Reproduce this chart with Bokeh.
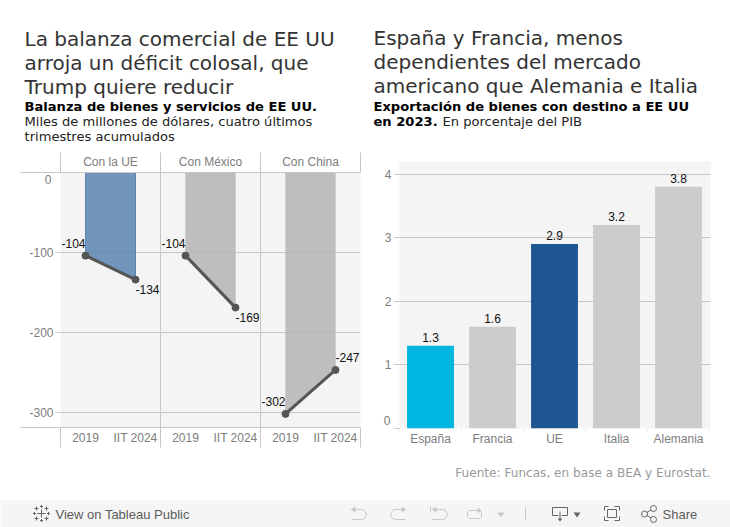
from bokeh.plotting import figure
from bokeh.embed import file_html
from bokeh.resources import INLINE
from bokeh.layouts import column, row
from bokeh.core.properties import value
from bokeh.models import (ColumnDataSource, FixedTicker, Grid, LinearAxis, Range1d)

# ---------- data ----------
regions = ["Con la UE", "Con México", "Con China"]
periods = ["2019", "IIT 2024"]
balance_2019 = [-104, -104, -302]
balance_2024 = [-134, -169, -247]
balance_ticks = [0, -100, -200, -300]

countries = ["España", "Francia", "UE", "Italia", "Alemania"]
exports_pct = [1.3, 1.6, 2.9, 3.2, 3.8]
export_ticks = [0, 1, 2, 3, 4]

title_left = ["La balanza comercial de EE UU", "arroja un déficit colosal, que", "Trump quiere reducir"]
title_right = ["España y Francia, menos", "dependientes del mercado", "americano que Alemania e Italia"]
source_note = "Fuente: Funcas, en base a BEA y Eurostat."

# ---------- styles ----------
SANS = "Liberation Sans"
TITLE = "DejaVu Sans"
GRID = "#c6c6c6"
AXIS_TXT = "#7d7d7d"
PLOT_BG = "#f4f4f4"
LINE = "#555555"
area_fill = ["#517dad", "#b0b0b0", "#b0b0b0"]
area_edge = ["#5c86b2", "#cdcdcd", "#cdcdcd"]
bar_colors = ["#00b5e0", "#cccccc", "#1d5690", "#cccccc", "#cccccc"]
SUB = 13.08


def text_panel(w, h, x0, y0, bg="#ffffff"):
    p = figure(width=w, height=h, x_range=Range1d(x0, x0 + w), y_range=Range1d(y0 + h, y0), x_axis_type=None,
               y_axis_type=None, output_backend="svg", toolbar_location=None, min_border=0,
               background_fill_color=bg, border_fill_color=bg, outline_line_color=None)
    p.grid.visible = False
    return p


def put(p, text, x, y, size, color="#000000", style="normal", font=TITLE, align="left"):
    p.text([x], [y], text=[text], text_font=value(font), text_font_size=f"{size}px", text_color=color,
           text_font_style=style, text_align=align, text_baseline="middle")


def chart_figure(w, h, left, right, top, bottom, xr, yr):
    p = figure(width=w, height=h, x_range=xr, y_range=yr, x_axis_type=None, y_axis_type=None,
               output_backend="svg", toolbar_location=None, min_border_left=left, min_border_right=right,
               min_border_top=top, min_border_bottom=bottom, background_fill_color=PLOT_BG,
               border_fill_color="#ffffff", outline_line_color=None, frame_width=w - left - right,
               frame_height=h - top - bottom)
    p.grid.visible = False
    return p


def style_axis(ax, size="12px"):
    ax.major_label_text_font = SANS
    ax.major_label_text_font_size = size
    ax.major_label_text_color = AXIS_TXT
    ax.major_tick_in = 0
    ax.minor_tick_in = 0
    ax.major_tick_line_color = GRID
    ax.minor_tick_line_color = GRID
    ax.axis_line_color = GRID


# ---------- left header ----------
head_l = text_panel(365, 151, 0, 0)
for i, t in enumerate(title_left):
    put(head_l, t, 24, 38 + 24 * i, 20, color="#333333")
put(head_l, "Balanza de bienes y servicios de EE UU.", 24, 106, SUB, style="bold")
put(head_l, "Miles de millones de dólares, cuatro últimos", 24, 121, SUB, color="#222222")
put(head_l, "trimestres acumulados", 24, 136, SUB, color="#222222")

# ---------- left chart ----------
left = chart_figure(365, 348, 60, 5, 20, 73, Range1d(0, 2 * len(regions)), Range1d(-319, 0))
panel_edges = [2 * i for i in range(len(regions) + 1)]
panel_mid = [2 * i + 1 for i in range(len(regions))]
period_pos = [2 * i + 0.5 + j for i in range(len(regions)) for j in range(len(periods))]

left.add_layout(Grid(dimension=0, ticker=FixedTicker(ticks=panel_edges), grid_line_color=GRID, level="underlay"))
left.add_layout(Grid(dimension=1, ticker=FixedTicker(ticks=balance_ticks), grid_line_color=GRID, level="underlay"))

top_ax = LinearAxis(ticker=FixedTicker(ticks=panel_mid, minor_ticks=panel_edges),
                    major_label_overrides={m: r for m, r in zip(panel_mid, regions)})
style_axis(top_ax)
top_ax.major_tick_out = 0
top_ax.minor_tick_out = 20
top_ax.major_label_standoff = -16
left.add_layout(top_ax, "above")

bot_ax = LinearAxis(ticker=FixedTicker(ticks=period_pos, minor_ticks=panel_edges),
                    major_label_overrides={x: periods[i % 2] for i, x in enumerate(period_pos)})
style_axis(bot_ax)
bot_ax.major_tick_out = 0
bot_ax.minor_tick_out = 20
bot_ax.major_label_standoff = -17
left.add_layout(bot_ax, "below")

y_ax = LinearAxis(ticker=FixedTicker(ticks=balance_ticks, minor_ticks=[0, -319]),
                  major_label_overrides={t: ("" if t == 0 else str(t)) for t in balance_ticks})
style_axis(y_ax)
y_ax.major_tick_out = 5
y_ax.minor_tick_out = 40
y_ax.major_label_standoff = -33
y_ax.axis_line_color = None
left.add_layout(y_ax, "left")

# the zero label sits just below its gridline in the reference
zero_l = LinearAxis(ticker=FixedTicker(ticks=[-8.75]), major_label_overrides={-8.75: "0"})
style_axis(zero_l)
zero_l.major_tick_out = 0
zero_l.major_tick_line_color = None
zero_l.axis_line_color = None
zero_l.major_label_standoff = -25
left.add_layout(zero_l, "left")

for i in range(len(regions)):
    x0, x1 = 2 * i + 0.5, 2 * i + 1.5
    v0, v1 = balance_2019[i], balance_2024[i]
    left.patch([x0, x1, x1, x0], [0, 0, v1, v0], fill_color=area_fill[i], fill_alpha=0.8, line_color=None)
    left.segment([x0, x1], [0, 0], [x0, x1], [v0, v1], line_color=area_edge[i], line_width=1)
    left.line([x0, x1], [v0, v1], line_color=LINE, line_width=3)
    left.scatter([x0, x1], [v0, v1], size=7, fill_color=LINE, line_color=LINE)
    rising = v1 > v0
    left.text([x0], [v0], text=[str(v0)], text_align="right", text_baseline="middle",
              x_offset=[0], y_offset=[-12], text_font=value(SANS), text_font_size="12px", text_color="#111111")
    left.text([x1], [v1], text=[str(v1)], text_align="left", text_baseline="middle",
              x_offset=[0], y_offset=[-12 if rising else 10], text_font=value(SANS), text_font_size="12px",
              text_color="#111111")

# ---------- right header ----------
head_r = text_panel(365, 161, 365, 0)
for i, t in enumerate(title_right):
    put(head_r, t, 373, 37 + 24 * i, 20, color="#333333")
put(head_r, "Exportación de bienes con destino a EE UU", 373, 106, SUB, style="bold")
put(head_r, "en 2023.", 373, 121, SUB, style="bold")
put(head_r, "En porcentaje del PIB", 442, 121, SUB, color="#222222")

# ---------- right chart ----------
right = chart_figure(365, 299, 34, 20, 0, 32, Range1d(0, 5.016), Range1d(0, 4.198))
pos = [i + 0.5 for i in range(len(countries))]
right.add_layout(Grid(dimension=1, ticker=FixedTicker(ticks=export_ticks), grid_line_color=GRID, level="underlay"))
source = ColumnDataSource(dict(x=pos, v=exports_pct, c=bar_colors, t=[f"{v:.1f}" for v in exports_pct]))
right.vbar(x="x", top="v", bottom=0, width=0.756, fill_color="c", line_color=None, source=source)
right.text(x="x", y="v", text="t", text_align="center", text_baseline="bottom", y_offset=-4,
           text_font=value(SANS), text_font_size="12px", text_color="#111111", source=source)

bx = LinearAxis(ticker=FixedTicker(ticks=pos, minor_ticks=list(range(len(countries) + 1))),
                major_label_overrides={x: c for x, c in zip(pos, countries)})
style_axis(bx)
bx.major_tick_out = 0
bx.minor_tick_out = 4
bx.minor_tick_line_color = "#eeeeee"
bx.axis_line_color = None
bx.major_label_standoff = -1
right.add_layout(bx, "below")

ly = LinearAxis(ticker=FixedTicker(ticks=export_ticks),
                major_label_overrides={t: ("" if t == 0 else str(t)) for t in export_ticks})
style_axis(ly)
ly.major_tick_out = 5
ly.major_label_standoff = 3
ly.axis_line_color = None
right.add_layout(ly, "left")

zero_r = LinearAxis(ticker=FixedTicker(ticks=[0.125]), major_label_overrides={0.125: "0"})
style_axis(zero_r)
zero_r.major_tick_out = 0
zero_r.major_tick_line_color = None
zero_r.axis_line_color = None
zero_r.major_label_standoff = -9
right.add_layout(zero_r, "left")

src_panel = text_panel(365, 40, 365, 460)
put(src_panel, source_note, 710, 472, 12.1, color="#999999", align="right")

# ---------- footer bar ----------
foot = text_panel(730, 27, 0, 500, bg="#f5f5f5")
LIGHT = "#c8c8c8"
DARK = "#666666"
cx, cy = 41, 513
plus_x = [cx, cx - 5, cx + 5, cx - 5, cx + 5, cx, cx, cx - 7, cx + 7]
plus_y = [cy, cy - 5, cy - 5, cy + 5, cy + 5, cy - 7, cy + 7, cy, cy]
plus_r = [4, 2, 2, 2, 2, 1.5, 1.5, 1.5, 1.5]
foot.multi_line([[x - r, x + r] for x, r in zip(plus_x, plus_r)] + [[x, x] for x, r in zip(plus_x, plus_r)],
                [[y, y] for y in plus_y] + [[y - r, y + r] for y, r in zip(plus_y, plus_r)],
                line_color=DARK, line_width=1)
put(foot, "View on Tableau Public", 55, 513.5, 13, color="#5c5c5c", font=SANS)
put(foot, "Share", 662, 513.5, 13, color="#5c5c5c", font=SANS)


def curve(x0, d):
    return ([x0, x0 + 10 * d, x0 + 13 * d, x0 + 15 * d, x0 + 13 * d, x0 + 10 * d, x0],
            [509, 509, 510, 514, 518, 519, 519])


for x0, d in [(351, 1), (405, -1), (432, 1)]:
    xs, ys = curve(x0, d)
    foot.line(xs, ys, line_color=LIGHT, line_width=1)
    foot.patch([x0 - d, x0 + 4 * d, x0 + 4 * d], [509, 506, 512], fill_color=LIGHT, line_color=None)
foot.line([430, 430], [506, 512], line_color=LIGHT)
foot.line([477, 469, 467, 467, 469, 479, 481, 481, 479], [510, 510, 512, 516, 518, 518, 516, 512, 510], line_color=LIGHT)
foot.patch([477, 481, 477], [507, 510, 513], fill_color=LIGHT, line_color=None)
foot.patch([497, 504, 500.5], [512, 512, 517], fill_color=LIGHT, line_color=None)
foot.line([525, 525], [507, 519], line_color=LIGHT)
foot.line([558, 552, 552, 567, 567, 561], [515, 515, 507, 507, 515, 515], line_color=DARK)
foot.line([559.5, 559.5], [511, 519], line_color=DARK)
foot.patch([557, 562, 559.5], [518, 518, 521], fill_color=DARK, line_color=None)
foot.patch([573, 580, 576.5], [512, 512, 517], fill_color=DARK, line_color=None)
foot.multi_line([[604, 604, 608], [614, 619, 619], [604, 604, 608], [614, 619, 619]],
                [[510, 506, 506], [506, 506, 510], [516, 520, 520], [520, 520, 516]], line_color=DARK)
foot.line([607, 616, 616, 607, 607], [509, 509, 517, 517, 509], line_color=DARK)
foot.scatter([644, 653, 653], [513.5, 508, 519], size=6, fill_color="#f5f5f5", line_color=DARK, marker="circle")
foot.multi_line([[646.5, 650.5], [646.5, 650.5]], [[512, 509.5], [515, 517.5]], line_color=DARK)

col_l = column(row(head_l, spacing=0), row(left, spacing=0), spacing=0)
col_r = column(row(head_r, spacing=0), row(right, spacing=0), row(src_panel, spacing=0), spacing=0)
page = column(row(col_l, col_r, spacing=0), row(foot, spacing=0), spacing=0)
open("out.html", "w").write(file_html(page, INLINE))
